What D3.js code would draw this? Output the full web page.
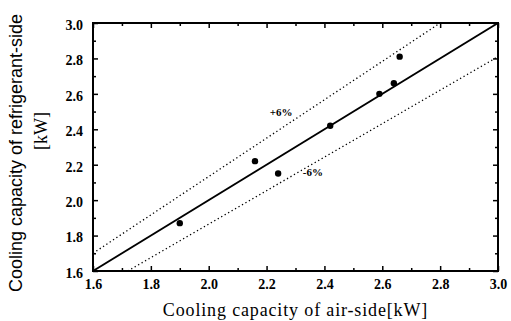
<!DOCTYPE html>
<html>
<head>
<meta charset="utf-8">
<script src="https://cdn.jsdelivr.net/npm/d3@7"></script>
<style>
  body { margin: 0; background: #fff; }
  svg { display: block; }
  .tick text { font-family: "Liberation Serif", "Times New Roman", serif; font-weight: bold; font-size: 14px; fill: #000; }
  .title { font-family: "Liberation Serif", "Times New Roman", serif; font-size: 18px; fill: #000; }
</style>
</head>
<body>
<div id="chart"></div>
<script>
// measured points: air-side vs refrigerant-side capacity [kW]
const airSide = [1.90, 2.16, 2.24, 2.42, 2.59, 2.64, 2.66];
const refSide = [1.87, 2.22, 2.15, 2.42, 2.60, 2.66, 2.81];

// reference lines
const equalLine = [[1.6, 1.6], [3.0, 3.0]];
const plusLine = [[1.6, 1.70], [2.80, 3.0]];
const minusLine = [[1.72, 1.6], [3.0, 2.81]];

const tickValues = [1.6, 1.8, 2.0, 2.2, 2.4, 2.6, 2.8, 3.0];
const minorValues = [1.7, 1.9, 2.1, 2.3, 2.5, 2.7, 2.9];

const margin = { top: 23, right: 13, bottom: 50, left: 93 };
const width = 511 - margin.left - margin.right;
const height = 321 - margin.top - margin.bottom;

const svg = d3.select('#chart')
  .append('svg')
  .attr('width', 511)
  .attr('height', 321);

const g = svg.append('g')
  .attr('transform', 'translate(' + margin.left + ',' + margin.top + ')');

const x = d3.scaleLinear().domain([1.6, 3.0]).range([0, width]);
const y = d3.scaleLinear().domain([1.6, 3.0]).range([height, 0]);

// axes with inward ticks
function styleAxis(sel) {
  sel.select('.domain').remove();
  sel.selectAll('.tick line').attr('stroke', '#000').attr('stroke-width', 1.5);
}

g.append('g')
  .attr('transform', 'translate(0,' + height + ')')
  .call(d3.axisBottom(x).tickValues(tickValues).tickFormat(d3.format('.1f')).tickSize(-5).tickPadding(8))
  .call(styleAxis);
g.append('g')
  .attr('transform', 'translate(0,' + height + ')')
  .call(d3.axisBottom(x).tickValues(minorValues).tickFormat('').tickSize(-3))
  .call(styleAxis);
g.append('g')
  .call(d3.axisTop(x).tickValues(tickValues).tickFormat('').tickSize(-5))
  .call(styleAxis);
g.append('g')
  .call(d3.axisTop(x).tickValues(minorValues).tickFormat('').tickSize(-3))
  .call(styleAxis);

g.append('g')
  .call(d3.axisLeft(y).tickValues(tickValues).tickFormat(d3.format('.1f')).tickSize(-5).tickPadding(10))
  .call(styleAxis)
  .selectAll('.tick text').attr('dy', '0.45em');
g.append('g')
  .call(d3.axisLeft(y).tickValues(minorValues).tickFormat('').tickSize(-3))
  .call(styleAxis);
g.append('g')
  .attr('transform', 'translate(' + width + ',0)')
  .call(d3.axisRight(y).tickValues(tickValues).tickFormat('').tickSize(-5))
  .call(styleAxis);
g.append('g')
  .attr('transform', 'translate(' + width + ',0)')
  .call(d3.axisRight(y).tickValues(minorValues).tickFormat('').tickSize(-3))
  .call(styleAxis);

// frame
g.append('rect')
  .attr('x', 0).attr('y', 0)
  .attr('width', width).attr('height', height)
  .attr('fill', 'none')
  .attr('stroke', '#000')
  .attr('stroke-width', 2);

const line = d3.line()
  .x(d => x(d[0]))
  .y(d => y(d[1]));

g.append('path')
  .datum(equalLine)
  .attr('fill', 'none')
  .attr('stroke', '#000')
  .attr('stroke-width', 2)
  .attr('d', line);

[plusLine, minusLine].forEach(l => {
  g.append('path')
    .datum(l)
    .attr('fill', 'none')
    .attr('stroke', '#000')
    .attr('stroke-width', 1.3)
    .attr('stroke-dasharray', '1.3,2.7')
    .attr('d', line);
});

// points
g.selectAll('.pt')
  .data(airSide)
  .enter().append('circle')
  .attr('class', 'pt')
  .attr('cx', d => x(d))
  .attr('cy', (d, i) => y(refSide[i]))
  .attr('r', 3.2)
  .attr('fill', '#000');

// labels
g.append('text')
  .attr('x', x(2.25)).attr('y', y(2.5) + 4)
  .attr('text-anchor', 'middle')
  .attr('font-family', 'Liberation Serif, serif')
  .attr('font-weight', 'bold')
  .attr('font-size', 11)
  .text('+6%');
g.append('text')
  .attr('x', x(2.36)).attr('y', y(2.16) + 4)
  .attr('text-anchor', 'middle')
  .attr('font-family', 'Liberation Serif, serif')
  .attr('font-weight', 'bold')
  .attr('font-size', 11)
  .text('-6%');

// axis titles
svg.append('text')
  .attr('class', 'title')
  .attr('x', margin.left + width / 2)
  .attr('y', 316)
  .attr('text-anchor', 'middle')
  .attr('letter-spacing', 0.85)
  .text('Cooling capacity of air-side[kW]');

svg.append('text')
  .attr('transform', 'translate(22,153) rotate(-90)')
  .attr('text-anchor', 'middle')
  .attr('font-family', 'Liberation Sans, Arial, sans-serif')
  .attr('font-size', 18)
  .text('Cooling capacity of refrigerant-side');
svg.append('text')
  .attr('class', 'title')
  .attr('transform', 'translate(47,131) rotate(-90)')
  .attr('text-anchor', 'middle')
  .text('[kW]');
</script>
</body>
</html>
